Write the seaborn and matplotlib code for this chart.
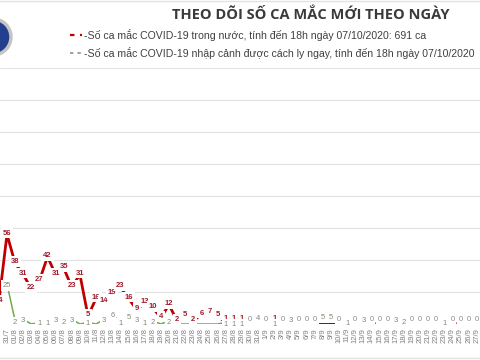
import numpy as np
import pandas as pd
import matplotlib
matplotlib.use("Agg")
import matplotlib.pyplot as plt
import seaborn as sns
from matplotlib.patches import Circle

# ngày (trục x) - bắt đầu 30/7, ảnh bị cắt ở hai bên
ngay = ["30/7", "31/7",
        "01/8", "02/8", "03/8", "04/8", "05/8", "06/8", "07/8", "08/8", "09/8", "10/8",
        "11/8", "12/8", "13/8", "14/8", "15/8", "16/8", "17/8", "18/8", "19/8", "20/8",
        "21/8", "22/8", "23/8", "24/8", "25/8", "26/8", "27/8", "28/8", "29/8", "30/8", "31/8",
        "1/9", "2/9", "3/9", "4/9", "5/9", "6/9", "7/9", "8/9", "9/9", "10/9",
        "11/9", "12/9", "13/9", "14/9", "15/9", "16/9", "17/9", "18/9", "19/9", "20/9",
        "21/9", "22/9", "23/9", "24/9", "25/9", "26/9", "27/9"]

# ca trong nước (đỏ)
trong_nuoc = [14, 56,
              38, 31, 22, 27, 42, 31, 35, 23, 31, 5,
              16, 14, 19, 23, 16, 9, 13, 10, 4, 12,
              2, 5, 2, 6, 7, 5, 1, 1, 1, 0, 0,
              0, 1, 0, 0, 0, 0, 0, 0, 0, 0,
              0, 0, 0, 0, 0, 0, 0, 0, 0, 0,
              0, 0, 0, 0, 0, 0, 0]

# ca nhập cảnh được cách ly ngay (xanh)
nhap_canh = [np.nan, 25,
             2, 3, 0, 1, 1, 3, 2, 3, 0, 1,
             0, 3, 6, 1, 5, 3, 1, 2, 0, 2,
             0, 0, 0, 0, 0, 0, 1, 1, 1, 0, 4,
             0, 1, 0, 3, 0, 0, 0, 5, 5, 0,
             1, 0, 3, 0, 0, 0, 3, 2, 0, 0,
             0, 0, 1, 0, 0, 0, 0]

tieu_de = "THEO DÕI SỐ CA MẮC MỚI THEO NGÀY"
chu_thich_1 = "-Số ca mắc COVID-19 trong nước, tính đến 18h ngày 07/10/2020: 691 ca"
chu_thich_2 = "-Số ca mắc COVID-19 nhập cảnh được cách ly ngay, tính đến 18h ngày 07/10/2020"

RED = "#C00000"
GREEN = "#70AD47"

sns.set_theme(style="white")
plt.rcParams['font.family'] = ['Liberation Sans', 'DejaVu Sans']

df = pd.DataFrame({"x": np.arange(len(ngay)),
                   "trong_nuoc": trong_nuoc,
                   "nhap_canh": nhap_canh})

fig = plt.figure(figsize=(4.8, 3.6), dpi=100)
fig.patch.set_facecolor("white")

# vùng biểu đồ chính
ax = fig.add_axes([0, 0.1, 1, 256 / 360])
ax.patch.set_alpha(0)

sns.lineplot(data=df, x="x", y="trong_nuoc", ax=ax, color=RED, linewidth=2.0, zorder=3)
sns.lineplot(data=df, x="x", y="nhap_canh", ax=ax, color=GREEN, linewidth=1.1, zorder=4)

box = dict(boxstyle="square,pad=0.25", fc="white", ec="none")
for xi, v, g in zip(df["x"], df["trong_nuoc"], df["nhap_canh"]):
    if v == 0 and g > 0:
        continue  # nhãn xanh che nhãn 0
    dy = 3 if v == g else 1
    ax.annotate(str(int(v)), (xi, v), xytext=(0, dy), textcoords="offset points",
                ha="center", va="center", fontsize=5.5,
                color="#a01c2c" if v > 0 else "#8a8a8a",
                fontweight="bold" if v > 0 else "normal",
                bbox=box, zorder=6, annotation_clip=False)
for xi, v, r in zip(df["x"], df["nhap_canh"], df["trong_nuoc"]):
    if np.isnan(v) or v == 0:
        continue
    dy = -1.8 if v == r else -1
    ax.annotate(str(int(v)), (xi, v), xytext=(0, dy), textcoords="offset points",
                ha="center", va="center", fontsize=5.5, color="#858575",
                bbox=box, zorder=7, annotation_clip=False)

ax.set_xlim(0.136, 59.4)
ax.set_ylim(0, 160)
ax.set_yticks(range(20, 161, 20))
ax.set_yticklabels([])
ax.yaxis.grid(True, color="#e2e2e2", linewidth=0.8)
ax.xaxis.grid(False)
ax.set_xticks(df["x"][1:])
ax.set_xticklabels(ngay[1:], rotation=90, fontsize=5.5, color="#808080")
ax.tick_params(axis="x", length=0, pad=3)
ax.tick_params(axis="y", length=0)
ax.set_xlabel("")
ax.set_ylabel("")
for s in ax.spines.values():
    s.set_visible(False)

# phần đầu: tiêu đề, chú thích, logo
ov = fig.add_axes([0, 0, 1, 1], zorder=10)
ov.set_xlim(0, 480)
ov.set_ylim(360, 0)
ov.axis("off")

ov.add_patch(Circle((-7, 37), 18, fc="#23408e", ec="#c4c4c4", lw=2.5))
ov.plot([0, 480], [1, 1], color="#e2e2e2", lw=1)
ov.plot([0, 480], [358, 358], color="#e2e2e2", lw=1)

ov.text(311, 15, tieu_de, ha="center", va="center", fontsize=10.5,
        fontweight="bold", color="#3a3a3a", family=["Open Sans", "DejaVu Sans"])
ov.plot([70, 82], [35, 35], color=RED, lw=1.6, dashes=(2, 2.5))
ov.text(84, 35, chu_thich_1, va="center", fontsize=7.6, color="#404040")
ov.plot([70, 82], [53, 53], color="#909090", lw=1.2, dashes=(2, 2.5))
ov.text(84, 53, chu_thich_2, va="center", fontsize=7.6, color="#404040")

fig.savefig("out.png", dpi=100)
